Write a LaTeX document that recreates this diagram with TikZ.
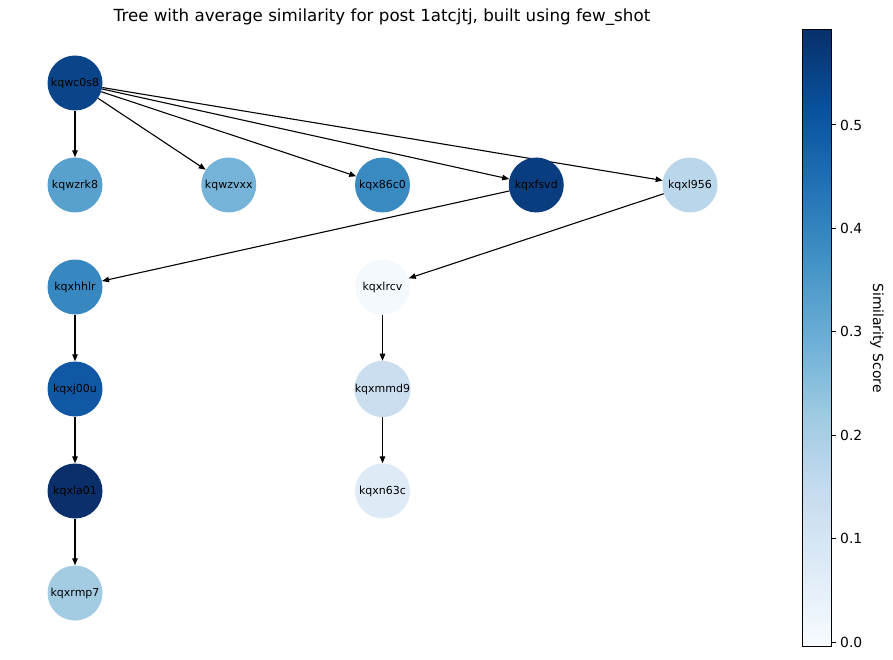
\documentclass[tikz,border=0pt]{standalone}
\usepackage{fontspec}
\setmainfont{DejaVu Sans}
\usepackage{xcolor}
\usepackage{tikz}
\usetikzlibrary{arrows.meta,positioning,backgrounds}
% Blues colour map
\definecolor{bl0}{HTML}{F7FBFF}
\definecolor{bl1}{HTML}{DEEBF7}
\definecolor{bl2}{HTML}{C6DBEF}
\definecolor{bl3}{HTML}{9ECAE1}
\definecolor{bl4}{HTML}{6BAED6}
\definecolor{bl5}{HTML}{4292C6}
\definecolor{bl6}{HTML}{2171B5}
\definecolor{bl7}{HTML}{08519C}
\definecolor{bl8}{HTML}{08306B}
% node colours (similarity)
\definecolor{simc0s8}{HTML}{0B4589}
\definecolor{simzrk8}{HTML}{58A1CF}
\definecolor{simzvxx}{HTML}{75B4D8}
\definecolor{sim86c0}{HTML}{3A8AC2}
\definecolor{simfsvd}{HTML}{0A3D80}
\definecolor{siml956}{HTML}{BAD6EB}
\definecolor{simhhlr}{HTML}{3787C0}
\definecolor{simlrcv}{HTML}{F4F9FE}
\definecolor{simj00u}{HTML}{1158A4}
\definecolor{simmmd9}{HTML}{CADEF0}
\definecolor{simla01}{HTML}{0A2F6A}
\definecolor{simn63c}{HTML}{DEEBF7}
\definecolor{simrmp7}{HTML}{A3CCE3}
\pgfdeclareverticalshading{blues}{100bp}{color(0bp)=(bl0); color(25bp)=(bl0);
  color(31.25bp)=(bl1); color(37.5bp)=(bl2); color(43.75bp)=(bl3);
  color(50bp)=(bl4); color(56.25bp)=(bl5); color(62.5bp)=(bl6);
  color(68.75bp)=(bl7); color(75bp)=(bl8); color(100bp)=(bl8)}
\tikzset{
  post/.style ={circle,draw=none,minimum size=55pt,inner sep=0pt,
                font=\fontsize{11}{13}\selectfont,text=black},
  reply/.style={-{Triangle[length=7pt,width=5.5pt]},line width=1.1pt,draw=black},
  tick/.style ={line width=1pt,draw=black},
  ticklab/.style={anchor=west,font=\fontsize{13.9}{16}\selectfont,inner sep=0pt}
}
\begin{document}
\begin{tikzpicture}[x=1pt,y=-1pt,node distance=102pt and 153.75pt,on grid]
  \useasboundingbox (0,0) rectangle (893,660);
  \node[font=\fontsize{16.7}{20}\selectfont] (title) at (382,17)
    {Tree with average similarity for post 1atcjtj, built using few\_shot};
  % tree
  \node[post,fill=simc0s8] (kqwc0s8) at (75,83) {kqwc0s8};
  \node[post,fill=simzrk8,below=of kqwc0s8] (kqwzrk8) {kqwzrk8};
  \node[post,fill=simzvxx,right=of kqwzrk8] (kqwzvxx) {kqwzvxx};
  \node[post,fill=sim86c0,right=of kqwzvxx] (kqx86c0) {kqx86c0};
  \node[post,fill=simfsvd,right=of kqx86c0] (kqxfsvd) {kqxfsvd};
  \node[post,fill=siml956,right=of kqxfsvd] (kqxl956) {kqxl956};
  \node[post,fill=simhhlr,below=of kqwzrk8] (kqxhhlr) {kqxhhlr};
  \node[post,fill=simlrcv,below=of kqx86c0] (kqxlrcv) {kqxlrcv};
  \node[post,fill=simj00u,below=of kqxhhlr] (kqxj00u) {kqxj00u};
  \node[post,fill=simmmd9,below=of kqxlrcv] (kqxmmd9) {kqxmmd9};
  \node[post,fill=simla01,below=of kqxj00u] (kqxla01) {kqxla01};
  \node[post,fill=simn63c,below=of kqxmmd9] (kqxn63c) {kqxn63c};
  \node[post,fill=simrmp7,below=of kqxla01] (kqxrmp7) {kqxrmp7};
  \begin{scope}[on background layer]
    \foreach \child in {kqwzrk8,kqwzvxx,kqx86c0,kqxfsvd,kqxl956}
      \draw[reply] (kqwc0s8) -- (\child);
    \draw[reply] (kqxfsvd) -- (kqxhhlr);
    \draw[reply] (kqxl956) -- (kqxlrcv);
    \draw[reply] (kqxhhlr) -- (kqxj00u);
    \draw[reply] (kqxj00u) -- (kqxla01);
    \draw[reply] (kqxla01) -- (kqxrmp7);
    \draw[reply] (kqxlrcv) -- (kqxmmd9);
    \draw[reply] (kqxmmd9) -- (kqxn63c);
  \end{scope}
  % colour bar
  \shade[shading=blues] (802,30) rectangle (831,646);
  \draw[line width=1pt] (802,30) rectangle (831,646);
  \foreach \v/\lab in {0/0.0,1/0.1,2/0.2,3/0.3,4/0.4,5/0.5} {
    \coordinate (tk\v) at (831,642-103.4*\v);
    \draw[tick] (tk\v) -- ++(5,0);
    \node[ticklab] at ([xshift=9pt]tk\v) {\lab};
  }
  \node[rotate=-90,font=\fontsize{13.9}{16}\selectfont] (cblabel) at (877,338)
    {Similarity Score};
\end{tikzpicture}
\end{document}
